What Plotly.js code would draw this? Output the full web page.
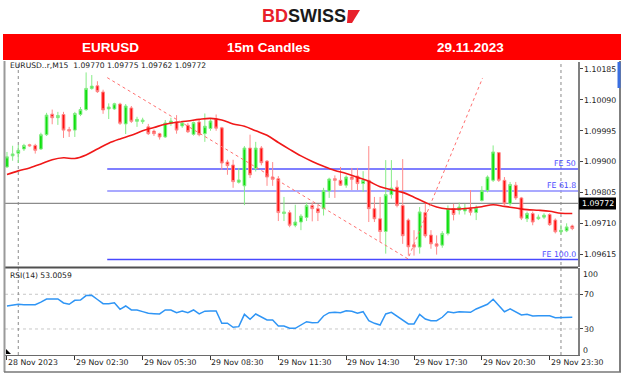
<!DOCTYPE html>
<html><head><meta charset="utf-8">
<script src="https://cdn.plot.ly/plotly-3.0.1.min.js"></script>
<style>html,body{margin:0;padding:0;background:#fff;}#chart{width:624px;height:375px;}</style>
</head><body><div id="chart"></div>
<script>
const times = [
"2023-11-28 23:30","2023-11-28 23:45",
"2023-11-29 00:00","2023-11-29 00:15","2023-11-29 00:30","2023-11-29 00:45",
"2023-11-29 01:00","2023-11-29 01:15","2023-11-29 01:30","2023-11-29 01:45",
"2023-11-29 02:00","2023-11-29 02:15","2023-11-29 02:30","2023-11-29 02:45",
"2023-11-29 03:00","2023-11-29 03:15","2023-11-29 03:30","2023-11-29 03:45",
"2023-11-29 04:00","2023-11-29 04:15","2023-11-29 04:30","2023-11-29 04:45",
"2023-11-29 05:00","2023-11-29 05:15","2023-11-29 05:30","2023-11-29 05:45",
"2023-11-29 06:00","2023-11-29 06:15","2023-11-29 06:30","2023-11-29 06:45",
"2023-11-29 07:00","2023-11-29 07:15","2023-11-29 07:30","2023-11-29 07:45",
"2023-11-29 08:00","2023-11-29 08:15","2023-11-29 08:30","2023-11-29 08:45",
"2023-11-29 09:00","2023-11-29 09:15","2023-11-29 09:30","2023-11-29 09:45",
"2023-11-29 10:00","2023-11-29 10:15","2023-11-29 10:30","2023-11-29 10:45",
"2023-11-29 11:00","2023-11-29 11:15","2023-11-29 11:30","2023-11-29 11:45",
"2023-11-29 12:00","2023-11-29 12:15","2023-11-29 12:30","2023-11-29 12:45",
"2023-11-29 13:00","2023-11-29 13:15","2023-11-29 13:30","2023-11-29 13:45",
"2023-11-29 14:00","2023-11-29 14:15","2023-11-29 14:30","2023-11-29 14:45",
"2023-11-29 15:00","2023-11-29 15:15","2023-11-29 15:30","2023-11-29 15:45",
"2023-11-29 16:00","2023-11-29 16:15","2023-11-29 16:30","2023-11-29 16:45",
"2023-11-29 17:00","2023-11-29 17:15","2023-11-29 17:30","2023-11-29 17:45",
"2023-11-29 18:00","2023-11-29 18:15","2023-11-29 18:30","2023-11-29 18:45",
"2023-11-29 19:00","2023-11-29 19:15","2023-11-29 19:30","2023-11-29 19:45",
"2023-11-29 20:00","2023-11-29 20:15","2023-11-29 20:30","2023-11-29 20:45",
"2023-11-29 21:00","2023-11-29 21:15","2023-11-29 21:30","2023-11-29 21:45",
"2023-11-29 22:00","2023-11-29 22:15","2023-11-29 22:30","2023-11-29 22:45",
"2023-11-29 23:00","2023-11-29 23:15","2023-11-29 23:30","2023-11-29 23:45",
"2023-11-30 00:00","2023-11-30 00:15","2023-11-30 00:30"];

const open = [1.09884,1.09918,1.09926,1.09939,1.09952,1.09950,1.09939,1.09983,1.10046,1.10035,
1.10045,1.09999,1.09997,1.10045,1.10060,1.10125,1.10133,1.10114,1.10062,1.10062,
1.10077,1.10016,1.10065,1.10024,1.10023,1.10007,1.09994,1.09986,1.09976,1.10017,
1.10022,1.10010,1.10012,1.09984,1.10022,1.09986,1.10002,1.10031,1.10004,1.09899,
1.09890,1.09837,1.09826,1.09942,1.09879,1.09942,1.09902,1.09853,1.09848,1.09741,
1.09744,1.09705,1.09715,1.09729,1.09766,1.09756,1.09756,1.09810,1.09848,1.09843,
1.09828,1.09853,1.09856,1.09833,1.09843,1.09756,1.09725,1.09686,1.09799,1.09822,
1.09766,1.09721,1.09645,1.09638,1.09744,1.09675,1.09648,1.09644,1.09680,1.09756,
1.09751,1.09749,1.09757,1.09744,1.09781,1.09812,1.09843,1.09928,1.09843,1.09771,
1.09828,1.09789,1.09725,1.09741,1.09725,1.09730,1.09738,1.09721,1.09685,1.09688,
1.09703];
const high = [1.09930,1.09949,1.09952,1.09955,1.09955,1.09955,1.09989,1.10050,1.10060,1.10053,
1.10053,1.10007,1.10053,1.10068,1.10174,1.10166,1.10147,1.10121,1.10079,1.10081,
1.10081,1.10077,1.10071,1.10038,1.10035,1.10016,1.09999,1.09989,1.10028,1.10035,
1.10043,1.10025,1.10019,1.10023,1.10028,1.10048,1.10031,1.10045,1.10007,1.09906,
1.09906,1.09881,1.09948,1.09983,1.09961,1.09948,1.09905,1.09899,1.09856,1.09792,
1.09751,1.09768,1.09739,1.09775,1.09775,1.09769,1.09820,1.09851,1.09858,1.09884,
1.09858,1.09881,1.09881,1.09871,1.09948,1.09792,1.09792,1.09905,1.09905,1.09843,
1.09908,1.09726,1.09690,1.09761,1.09777,1.09690,1.09674,1.09687,1.09766,1.09771,
1.09775,1.09771,1.09813,1.09766,1.09825,1.09858,1.09950,1.09930,1.09853,1.09838,
1.09838,1.09792,1.09747,1.09747,1.09738,1.09742,1.09742,1.09726,1.09707,1.09711,
1.09707];
const low = [1.09881,1.09903,1.09896,1.09933,1.09946,1.09925,1.09936,1.09979,1.10015,1.10013,
1.09973,1.09976,1.09976,1.10040,1.10056,1.10121,1.10111,1.10047,1.10031,1.10059,
1.10013,1.09985,1.10019,1.10007,1.10016,1.09982,1.09979,1.09968,1.09973,1.10010,
1.09986,1.10004,1.09988,1.09980,1.09978,1.09961,1.09995,1.09995,1.09875,1.09860,
1.09820,1.09833,1.09767,1.09850,1.09870,1.09889,1.09826,1.09826,1.09718,1.09718,
1.09699,1.09699,1.09690,1.09718,1.09717,1.09718,1.09735,1.09789,1.09789,1.09826,
1.09820,1.09813,1.09813,1.09807,1.09715,1.09715,1.09654,1.09618,1.09787,1.09760,
1.09648,1.09612,1.09612,1.09618,1.09667,1.09633,1.09615,1.09636,1.09674,1.09720,
1.09738,1.09738,1.09735,1.09721,1.09778,1.09806,1.09838,1.09838,1.09767,1.09765,
1.09783,1.09721,1.09715,1.09705,1.09721,1.09724,1.09703,1.09680,1.09677,1.09684,
1.09690];
const close = [1.09915,1.09924,1.09935,1.09950,1.09949,1.09935,1.09983,1.10043,1.10035,1.10042,
1.09997,1.09994,1.10048,1.10060,1.10125,1.10132,1.10115,1.10059,1.10068,1.10078,
1.10018,1.10071,1.10024,1.10030,1.10028,1.09986,1.09986,1.09976,1.10019,1.10025,
1.09997,1.10019,1.09992,1.10020,1.09983,1.10009,1.10025,1.10003,1.09896,1.09888,
1.09839,1.09844,1.09942,1.09860,1.09942,1.09897,1.09853,1.09846,1.09744,1.09746,
1.09705,1.09715,1.09733,1.09766,1.09756,1.09744,1.09812,1.09847,1.09843,1.09828,
1.09853,1.09846,1.09833,1.09843,1.09756,1.09725,1.09686,1.09799,1.09819,1.09766,
1.09673,1.09639,1.09638,1.09746,1.09673,1.09648,1.09641,1.09680,1.09756,1.09738,
1.09761,1.09758,1.09745,1.09758,1.09812,1.09853,1.09930,1.09843,1.09771,1.09830,
1.09789,1.09727,1.09741,1.09715,1.09730,1.09736,1.09707,1.09685,1.09690,1.09700,
1.09695];

const maTimes = [
"2023-11-28 23:30","2023-11-29 00:00","2023-11-29 00:30","2023-11-29 01:00","2023-11-29 01:30",
"2023-11-29 02:00","2023-11-29 02:30","2023-11-29 03:00","2023-11-29 03:30","2023-11-29 04:00",
"2023-11-29 04:30","2023-11-29 05:00","2023-11-29 05:30","2023-11-29 06:00","2023-11-29 06:30",
"2023-11-29 07:00","2023-11-29 07:30","2023-11-29 08:00","2023-11-29 08:30","2023-11-29 09:00",
"2023-11-29 09:30","2023-11-29 10:00","2023-11-29 10:30","2023-11-29 11:00","2023-11-29 11:30",
"2023-11-29 12:00","2023-11-29 12:30","2023-11-29 13:00","2023-11-29 13:30","2023-11-29 14:00",
"2023-11-29 14:30","2023-11-29 15:00","2023-11-29 15:30","2023-11-29 16:00","2023-11-29 16:30",
"2023-11-29 17:00","2023-11-29 17:30","2023-11-29 18:00","2023-11-29 18:30","2023-11-29 19:00",
"2023-11-29 19:30","2023-11-29 20:00","2023-11-29 20:30","2023-11-29 21:00","2023-11-29 21:30",
"2023-11-29 22:00","2023-11-29 22:30","2023-11-29 23:00","2023-11-29 23:30","2023-11-30 00:00",
"2023-11-30 00:30"];
const maValues = [1.09861,1.09872,1.09881,1.09893,1.09906,1.09912,1.09910,1.09921,1.09939,1.09957,
1.09970,1.09981,1.09995,1.10005,1.10015,1.10021,1.10025,1.10030,1.10033,1.10028,
1.10016,1.10009,1.09995,1.09981,1.09959,1.09938,1.09918,1.09901,1.09886,1.09873,
1.09864,1.09852,1.09840,1.09823,1.09814,1.09806,1.09791,1.09775,1.09761,1.09755,
1.09755,1.09758,1.09762,1.09768,1.09763,1.09758,1.09753,1.09751,1.09748,1.09742,
1.09741];

const rsi = [56.5,57.5,58.5,58,57.7,58,61,64.6,64.6,64.6,
60,58.5,63,63.4,68.5,68.8,64,59.2,59.2,60.3,
52.7,56.5,51.9,51.9,50,48.1,47.7,47.3,51.9,51.9,
48.8,50.7,48.8,51.9,47.3,50.5,50.7,50.7,36.6,36.6,
32,32.7,46.9,41.2,47.3,44,40.4,40.4,33.5,33.5,
30.8,30.8,34.6,38.4,37.3,37.5,45,48.8,49.2,48.8,
51.1,50.5,48.1,49.9,39.6,36.5,34.6,47.3,49.2,45,
40.4,35.8,35.8,46.9,41.5,39.6,39.6,43.5,49.9,48.8,
49.9,49.9,49.2,53.1,55.7,58.5,64.2,56.9,49.9,53.1,
49.9,46.1,46.9,45,45.3,45.3,45.3,43,43,43.5,
43.5];

const feTimes = ["2023-11-29 03:56","2023-11-29 17:14","2023-11-29 20:32"];
const fePrices = [1.10158, 1.09602, 1.10157];
const feLevels = [1.09878, 1.09810, 1.09600];
const feLabels = ["FE 50","FE 61.8","FE 100.0"];

const priceTicks = [1.10185,1.10090,1.09995,1.09900,1.09805,1.09710,1.09615];
const priceTickText = ["1.10185","1.10090","1.09995","1.09900","1.09805","1.09710","1.09615"];
const lastPrice = 1.09772;
const lastPriceText = "1.09772";
const rsiTicks = [70,30];
const rsiTickText = ["70","30"];
const timeTicks = ["2023-11-28 23:30","2023-11-29 02:30","2023-11-29 05:30","2023-11-29 08:30",
"2023-11-29 11:30","2023-11-29 14:30","2023-11-29 17:30","2023-11-29 20:30","2023-11-29 23:30"];
const timeTickText = ["28 Nov 2023","29 Nov 02:30","29 Nov 05:30","29 Nov 08:30",
"29 Nov 11:30","29 Nov 14:30","29 Nov 17:30","29 Nov 20:30","29 Nov 23:30"];
const daySeparators = ["2023-11-29 00:00","2023-11-30 00:00"];
const xRange = ["2023-11-28 23:24:45","2023-11-30 00:45:10"];
const yRange = [1.09577, 1.10206];

const W = 624, H = 375;
const px = x => x / W;
const py = y => 1 - y / H;
const F = "DejaVu Sans";
const XD = [px(5), px(578)];
const MAIN_TOP = 62, MAIN_BOT = 267;
const priceToPaper = p => py(MAIN_TOP + (yRange[1]-p)/(yRange[1]-yRange[0])*(MAIN_BOT-MAIN_TOP));

const traces = [
  {type:"candlestick", x:times, open:open, high:high, low:low, close:close,
   xaxis:"x", yaxis:"y",
   increasing:{line:{color:"#86ec86", width:1}, fillcolor:"#10e010"},
   decreasing:{line:{color:"#ff8a8a", width:1}, fillcolor:"#ff1010"},
   whiskerwidth:0, hoverinfo:"skip"},
  {type:"scatter", mode:"lines", x:maTimes, y:maValues, xaxis:"x", yaxis:"y",
   line:{color:"#f01818", width:1.6, shape:"spline"}, hoverinfo:"skip"},
  {type:"scatter", mode:"lines", x:feTimes, y:fePrices, xaxis:"x", yaxis:"y",
   line:{color:"#ff7070", width:1, dash:"dot"}, hoverinfo:"skip"},
  {type:"scatter", mode:"lines", x:times, y:rsi, xaxis:"x2", yaxis:"y2",
   line:{color:"#2f95f5", width:1.5}, hoverinfo:"skip"}
];

const shapes = [];
shapes.push({type:"rect", xref:"paper", yref:"paper", x0:px(3), x1:px(621), y0:py(60), y1:py(34),
  fillcolor:"#ff0000", line:{width:0}, layer:"below"});
const feColors = ["#5555ff","#8c8cff","#4848ff"];
feLevels.forEach((lv,i)=>shapes.push({type:"line", xref:"x", yref:"y", x0:feTimes[0], x1:xRange[1],
  y0:lv, y1:lv, line:{color:feColors[i], width:1.5}, layer:"below"}));
shapes.push({type:"line", xref:"x domain", yref:"y", x0:0, x1:1, y0:lastPrice, y1:lastPrice,
  line:{color:"#8c8c8c", width:1.2}, layer:"below"});
rsiTicks.forEach(v=>shapes.push({type:"line", xref:"x2 domain", yref:"y2", x0:0, x1:1, y0:v, y1:v,
  line:{color:"#c8c8c8", width:1, dash:"dot"}, layer:"below"}));
daySeparators.forEach(d=>shapes.push({type:"line", xref:"x", yref:"paper", x0:d, x1:d,
  y0:py(355), y1:py(62), line:{color:"#8a8a8a", width:1, dash:"dot"}, layer:"below"}));
shapes.push({type:"line", xref:"paper", yref:"paper", x0:px(5), x1:px(578), y0:py(267.5), y1:py(267.5),
  line:{color:"#505050", width:2}});
shapes.push({type:"line", xref:"paper", yref:"paper", x0:px(4.5), x1:px(4.5), y0:py(372), y1:py(61),
  line:{color:"#9a9a9a", width:2}});
shapes.push({type:"line", xref:"paper", yref:"paper", x0:px(620), x1:px(620), y0:py(372), y1:py(61),
  line:{color:"#555", width:1.5}});
shapes.push({type:"line", xref:"paper", yref:"paper", x0:px(4), x1:px(621), y0:py(372), y1:py(372),
  line:{color:"#777", width:1.5}});
shapes.push({type:"rect", xref:"paper", yref:"paper", x0:px(617.5), x1:px(620.5), y0:py(88), y1:py(62),
  fillcolor:"#3a6ee0", line:{width:0}});
const tagY = priceToPaper(lastPrice);
shapes.push({type:"rect", xref:"paper", yref:"paper", x0:px(579), x1:px(616),
  y0:tagY-6/H, y1:tagY+6/H, fillcolor:"#000", line:{width:0}});
shapes.push({type:"path", xref:"paper", yref:"paper",
  path:`M ${px(348)} ${py(10)} L ${px(360)} ${py(10)} L ${px(352)} ${py(23)} L ${px(347)} ${py(23)} Z`,
  fillcolor:"#e8202a", line:{width:0}});
shapes.push({type:"path", xref:"paper", yref:"paper",
  path:`M ${px(6)} ${py(349)} L ${px(6)} ${py(354)} L ${px(11)} ${py(354)} Z`,
  fillcolor:"#000", line:{width:0}});

const ann = [];
const A = o => Object.assign({showarrow:false, xanchor:"center", yanchor:"middle"}, o);
ann.push(A({xref:"paper", yref:"paper", x:px(304), y:py(16), text:'<b><span style="color:#e8202a">BD</span><span style="color:#1a1a1a">SWISS</span></b>',
  font:{family:"Liberation Sans", size:18}}));
[["EURUSD",110],["15m Candles",268],["29.11.2023",470]].forEach(([t,x])=>ann.push(A({
  xref:"paper", yref:"paper", x:px(x), y:py(47.5), text:"<b>"+t+"</b>",
  font:{family:"Liberation Sans", size:13.5, color:"#fff"}})));
ann.push(A({xref:"paper", yref:"paper", x:px(7.5), y:py(66), xanchor:"left",
  text:"EURUSD..r,M15  1.09770 1.09775 1.09762 1.09772", font:{family:F, size:7.6, color:"#222"}}));
ann.push(A({xref:"paper", yref:"paper", x:px(7.5), y:py(275), xanchor:"left",
  text:"RSI(14) 53.0059", font:{family:F, size:7.6, color:"#222"}}));
feLevels.forEach((lv,i)=>ann.push(A({xref:"paper", yref:"y", x:px(577.5), y:lv, xanchor:"right", yanchor:"bottom",
  text:feLabels[i], yshift:-1, font:{family:F, size:7.8, color:"#4a4aff"}})));
ann.push(A({xref:"paper", yref:"paper", x:px(597.5), y:tagY, text:lastPriceText,
  font:{family:F, size:7.8, color:"#fff"}}));
ann.push(A({xref:"paper", yref:"paper", x:px(581), y:py(274), xanchor:"left", text:"100",
  font:{family:F, size:7.8, color:"#222"}}));
ann.push(A({xref:"paper", yref:"paper", x:px(581), y:py(350), xanchor:"left", text:"0",
  font:{family:F, size:7.8, color:"#222"}}));
timeTicks.forEach((t,i)=>ann.push(A({xref:"x2", yref:"paper", x:t, y:py(362), xanchor:"left",
  text:timeTickText[i], xshift:-1, font:{family:F, size:7.8, color:"#222"}})));

const layout = {
  width:W, height:H, margin:{l:0,r:0,t:0,b:0,pad:0,autoexpand:false}, paper_bgcolor:"#fff", plot_bgcolor:"#fff",
  showlegend:false, hovermode:false,
  xaxis:{domain:XD, type:"date", range:xRange, anchor:"y", visible:false,
    rangeslider:{visible:false}, showgrid:false, automargin:false},
  yaxis:{domain:[py(MAIN_BOT), py(MAIN_TOP)], range:yRange, anchor:"x", side:"right",
    tickvals:priceTicks, ticktext:priceTickText, ticks:"outside", ticklen:3, tickcolor:"#444",
    showline:true, linecolor:"#808080", linewidth:1.5, showgrid:false, zeroline:false, automargin:false,
    tickfont:{family:F, size:7.8, color:"#222"}},
  xaxis2:{domain:XD, type:"date", matches:"x", anchor:"y2", showline:true, linecolor:"#6a6a6a", linewidth:1.2,
    tickvals:timeTicks, ticks:"outside", ticklen:4, tickcolor:"#333", showticklabels:false, showgrid:false, automargin:false},
  yaxis2:{domain:[py(355), py(268)], range:[0,100.3], anchor:"x2", side:"right",
    tickvals:rsiTicks, ticktext:rsiTickText, ticks:"outside", ticklen:3, tickcolor:"#444",
    showline:true, linecolor:"#808080", linewidth:1.5, showgrid:false, zeroline:false, automargin:false,
    tickfont:{family:F, size:7.8, color:"#222"}},
  shapes:shapes, annotations:ann
};
Plotly.newPlot("chart", traces, layout, {displayModeBar:false, staticPlot:true});
</script></body></html>
